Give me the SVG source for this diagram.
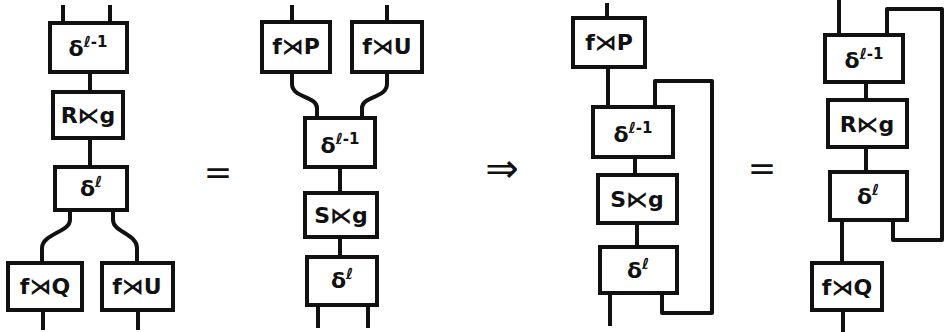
<svg xmlns="http://www.w3.org/2000/svg" width="945" height="332" viewBox="0 0 945 332">
<style>
.w{fill:none;stroke:#111;stroke-width:4;stroke-linecap:butt;stroke-linejoin:round}
.b{fill:#fff;stroke:#111;stroke-width:4}
.t{font-family:"DejaVu Sans",sans-serif;font-weight:bold;font-size:22px;fill:#111;text-anchor:middle}
.s{font-size:15px}
.op{font-family:"DejaVu Sans",sans-serif;font-size:34px;fill:#111;text-anchor:middle}
</style>
<rect width="945" height="332" fill="#fff"/>
<g id="connectors">
<path class="w" d="M63,5 V23 M110,5 V23"/>
<path class="w" d="M90,72 V92 M90,138 V167"/>
<path class="w" d="M70,210 V220 C70,232 42,234 42,248 V263"/>
<path class="w" d="M113,210 V220 C113,232 137,234 137,248 V263"/>
<path class="w" d="M43,310 V330 M138,310 V330"/>
<path class="w" d="M292,5 V22 M387,5 V22"/>
<path class="w" d="M292,72 V84 C292,98 317,96 317,108 V118"/>
<path class="w" d="M387,72 V84 C387,98 362,96 362,108 V118"/>
<path class="w" d="M340,167 V193 M340,237 V257"/>
<path class="w" d="M318,305 V328 M368,305 V328"/>
<path class="w" d="M607,3 V18 M608,67 V107"/>
<path class="w" d="M655,107 V81 H712 V313 H662 V293"/>
<path class="w" d="M635,157 V175 M637,223 V247"/>
<path class="w" d="M610,293 V326"/>
<path class="w" d="M839,0 V35"/>
<path class="w" d="M887,35 V9 H942 V240 H893 V220"/>
<path class="w" d="M866,82 V100 M866,147 V172"/>
<path class="w" d="M842,220 V263 M843,310 V332"/>
</g>
<g id="n1a"><rect class="b" x="50" y="23" width="77" height="49"/><text class="t" x="88" y="56">δ<tspan class="s" dy="-9">ℓ-1</tspan></text></g>
<g id="n1b"><rect class="b" x="53" y="92" width="70" height="46"/><text class="t" x="88" y="123">R⋉g</text></g>
<g id="n1c"><rect class="b" x="55" y="167" width="72" height="43"/><text class="t" x="91" y="196">δ<tspan class="s" dy="-9">ℓ</tspan></text></g>
<g id="n1d"><rect class="b" x="8" y="263" width="74" height="47"/><text class="t" x="45" y="294">f⋊Q</text></g>
<g id="n1e"><rect class="b" x="102" y="263" width="71" height="47"/><text class="t" x="137" y="294">f⋊U</text></g>
<g id="eq1"><text class="op" x="218" y="184">=</text></g>
<g id="n2a"><rect class="b" x="262" y="22" width="68" height="50"/><text class="t" x="296" y="54">f⋊P</text></g>
<g id="n2b"><rect class="b" x="352" y="22" width="70" height="50"/><text class="t" x="387" y="54">f⋊U</text></g>
<g id="n2c"><rect class="b" x="305" y="118" width="70" height="49"/><text class="t" x="340" y="153">δ<tspan class="s" dy="-9">ℓ-1</tspan></text></g>
<g id="n2d"><rect class="b" x="305" y="193" width="72" height="44"/><text class="t" x="341" y="223">S⋉g</text></g>
<g id="n2e"><rect class="b" x="307" y="257" width="70" height="48"/><text class="t" x="342" y="288">δ<tspan class="s" dy="-9">ℓ</tspan></text></g>
<g id="impl"><text class="op" x="502" y="182" style="font-size:40px">⇒</text></g>
<g id="n3a"><rect class="b" x="573" y="18" width="72" height="49"/><text class="t" x="609" y="50">f⋊P</text></g>
<g id="n3b"><rect class="b" x="593" y="107" width="80" height="50"/><text class="t" x="633" y="142">δ<tspan class="s" dy="-9">ℓ-1</tspan></text></g>
<g id="n3c"><rect class="b" x="598" y="175" width="79" height="48"/><text class="t" x="637" y="207">S⋉g</text></g>
<g id="n3d"><rect class="b" x="600" y="247" width="77" height="46"/><text class="t" x="638" y="278">δ<tspan class="s" dy="-9">ℓ</tspan></text></g>
<g id="eq2"><text class="op" x="762" y="180">=</text></g>
<g id="n4a"><rect class="b" x="825" y="35" width="78" height="47"/><text class="t" x="864" y="68">δ<tspan class="s" dy="-9">ℓ-1</tspan></text></g>
<g id="n4b"><rect class="b" x="828" y="100" width="79" height="47"/><text class="t" x="867" y="132">R⋉g</text></g>
<g id="n4c"><rect class="b" x="830" y="172" width="77" height="48"/><text class="t" x="868" y="204">δ<tspan class="s" dy="-9">ℓ</tspan></text></g>
<g id="n4d"><rect class="b" x="812" y="263" width="70" height="47"/><text class="t" x="847" y="295">f⋊Q</text></g>
</svg>
